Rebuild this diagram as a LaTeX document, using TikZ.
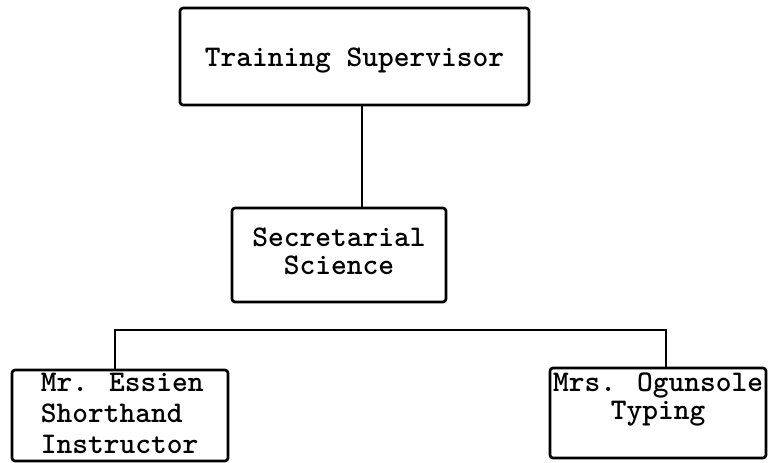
\documentclass[tikz,border=0pt]{standalone}
\begin{document}
\begin{tikzpicture}[x=1pt,y=-1pt,
  box/.style={draw, line width=2.6pt, rounded corners=3pt, inner sep=0pt},
  txt/.style={font=\fontsize{30}{30}\selectfont\ttfamily\bfseries, inner sep=0pt},
  conn/.style={line width=2.6pt}]
\useasboundingbox (0,0) rectangle (769,463);
% boxes
\node[box, minimum width=349pt, minimum height=97pt] (ts) at (354.5,56.5) {};
\node[box, minimum width=214pt, minimum height=94pt] (ss) at (339,255) {};
\node[box, minimum width=216pt, minimum height=91pt] (ess) at (120,415.5) {};
\node[box, minimum width=216pt, minimum height=90pt] (og) at (658,413) {};
% texts
\node[txt, anchor=base] (tst) at ([yshift=-60pt]ts.north) {Training Supervisor};
\node[txt, anchor=north, align=center, font=\fontsize{30}{28}\selectfont\ttfamily\bfseries] (sst) at ([yshift=-20.7pt]ss.north) {Secretarial\\Science};
\node[txt, anchor=north west, align=left, font=\fontsize{30}{31}\selectfont\ttfamily\bfseries] (esst) at ([xshift=30pt,yshift=-4.7pt]ess.north west) {Mr. Essien\\Shorthand\\Instructor};
\node[txt, anchor=north, align=center, font=\fontsize{30}{28}\selectfont\ttfamily\bfseries] (ogt) at ([yshift=-5.7pt]og.north) {Mrs. Ogunsole\\Typing};
% connectors
\draw[conn] ([xshift=7.5pt]ts.south) -- ([xshift=7.5pt]ts.south |- ss.north);
\coordinate (bar) at (390,330);
\draw[conn] ([xshift=-5pt]ess.north) |- (bar) -| ([xshift=8pt]og.north);
\end{tikzpicture}
\end{document}
